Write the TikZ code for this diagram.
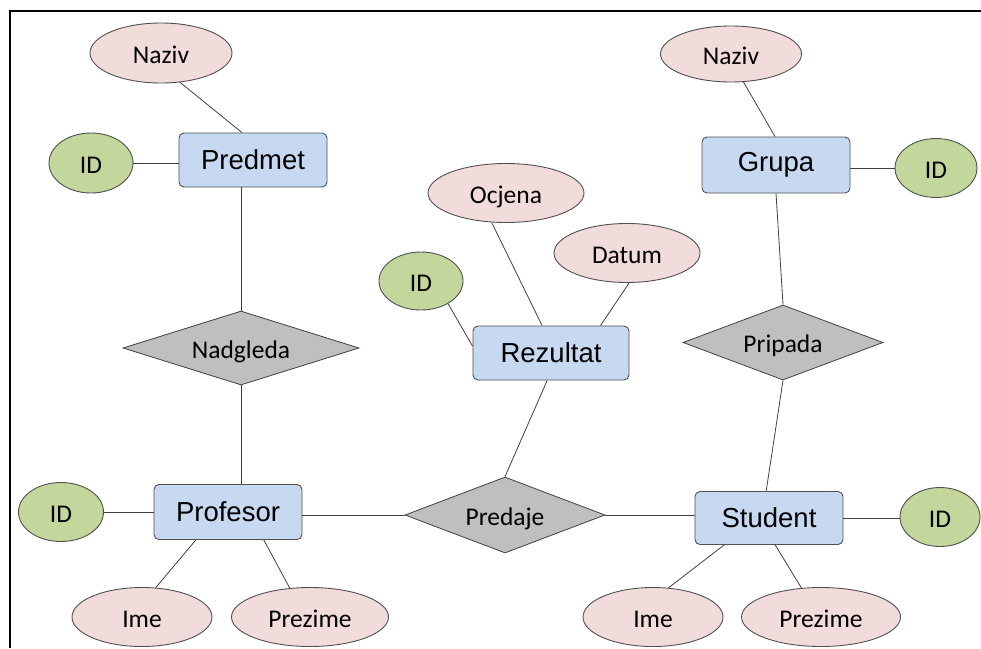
\documentclass[tikz,border=0pt]{standalone}
\usepackage{fontspec}
\setmainfont{Carlito}
\newfontfamily\boxfont{Liberation Sans}
\usetikzlibrary{shapes.geometric}

\definecolor{attrfill}{HTML}{F2DCDB}
\definecolor{keyfill}{HTML}{C3D69B}
\definecolor{entfill}{HTML}{C6D9F1}
\definecolor{relfill}{HTML}{BFBFBF}
\definecolor{edgegray}{HTML}{505050}
\definecolor{linegray}{HTML}{404040}

\tikzset{
  attr/.style={ellipse, draw=edgegray, fill=attrfill, line width=0.9pt,
    inner sep=0pt, text height=20pt, text depth=0pt,
    font=\fontsize{25.5}{30}\selectfont},
  keyattr/.style={attr, fill=keyfill},
  entity/.style={rectangle, rounded corners=5pt, draw=edgegray, fill=entfill,
    line width=0.9pt, inner sep=0pt, font=\boxfont\fontsize{27.5}{32}\selectfont},
  rel/.style={diamond, aspect=3, draw=linegray, fill=relfill, line width=0.8pt,
    inner sep=0pt, text height=20pt, text depth=0pt,
    font=\fontsize{25.5}{30}\selectfont},
  link/.style={draw=linegray, line width=0.8pt}
}

\begin{document}
\begin{tikzpicture}[x=1pt, y=-1pt]
  \useasboundingbox (0,0) rectangle (981,648);

  % frame
  \draw[line width=2pt] (10,648) -- (10,11) -- (981,11);

  % entities
  \node[entity, minimum width=148pt, minimum height=54pt] (predmet)  at (253,160) {Predmet};
  \node[entity, minimum width=148pt, minimum height=55pt] (profesor) at (228,512) {Profesor};
  \node[entity, minimum width=156pt, minimum height=54pt] (rezultat) at (551,353) {Rezultat};
  \node[entity, minimum width=148pt, minimum height=56pt] (grupa)    at (776,165) {Grupa};
  \node[entity, minimum width=148pt, minimum height=53pt] (student)  at (769,518) {Student};

  % relationships
  \node[rel, minimum width=236pt, minimum height=74pt] (nadgleda) at (241,348)   {Nadgleda};
  \node[rel, minimum width=200pt, minimum height=76pt] (predaje)  at (505,515)   {Predaje};
  \node[rel, minimum width=200pt, minimum height=75pt] (pripada)  at (783,342.5) {Pripada};

  % attributes
  \node[attr,    minimum width=142pt, minimum height=60pt] (nazivp)   at (161,53)  {Naziv};
  \node[keyattr, minimum width=84pt,  minimum height=60pt] (idp)      at (91,163)  {ID};
  \node[keyattr, minimum width=85pt,  minimum height=59pt] (idprof)   at (61,512)  {ID};
  \node[attr,    minimum width=140pt, minimum height=59pt] (imeprof)  at (142,617) {Ime};
  \node[attr,    minimum width=157pt, minimum height=59pt] (prezprof) at (310,617) {Prezime};
  \node[attr,    minimum width=156pt, minimum height=59pt] (ocjena)   at (506,193) {Ocjena};
  \node[attr,    minimum width=146pt, minimum height=59pt] (datum)    at (627,253) {Datum};
  \node[keyattr, minimum width=84pt,  minimum height=58pt] (idrez)    at (421,281) {ID};
  \node[attr,    minimum width=141pt, minimum height=56pt] (nazivg)   at (731,54)  {Naziv};
  \node[keyattr, minimum width=82pt,  minimum height=59pt] (idg)      at (936,168) {ID};
  \node[keyattr, minimum width=80pt,  minimum height=59pt] (idstud)   at (940,517) {ID};
  \node[attr,    minimum width=140pt, minimum height=59pt] (imestud)  at (653,617) {Ime};
  \node[attr,    minimum width=159pt, minimum height=59pt] (prezstud) at (821,617) {Prezime};

  % Predmet
  \draw[link] (nazivp.-57.7) -- (predmet.112.2);
  \draw[link] (idp.east) -- (idp.east -| predmet.west);
  \draw[link] (predmet.south -| nadgleda.north) -- (nadgleda.north);
  \draw[link] (nadgleda.south) -- (nadgleda.south |- profesor.north);

  % Profesor
  \draw[link] (idprof.east) -- (idprof.east -| profesor.west);
  \draw[link] (profesor.-139.7) -- (imeprof.65.9);
  \draw[link] (profesor.-38.7) -- (prezprof.125.9);
  \draw[link] (predaje.west) -- (predaje.west -| profesor.east);

  % Rezultat
  \draw[link] (idrez.-40.6) -- (rezultat.175.5);
  \draw[link] (ocjena.-116.6) -- (rezultat.108.4);
  \draw[link] (datum.-86) -- (rezultat.29.4);
  \draw[link] (rezultat.-98.4) -- (predaje.north);

  % Student
  \draw[link] (predaje.east) -- (predaje.east -| student.west);
  \draw[link] (student.east) -- (student.east -| idstud.west);
  \draw[link] (student.-149.6) -- (imestud.62.6);
  \draw[link] (student.-77.5) -- (prezstud.124.6);
  \draw[link] (pripada.south) -- (student.96.6);

  % Grupa
  \draw[link] (nazivg.-66.8) -- (grupa.92);
  \draw[link] (idg.west) -- (idg.west -| grupa.east);
  \draw[link] (grupa.south) -- (pripada.north);
\end{tikzpicture}
\end{document}
